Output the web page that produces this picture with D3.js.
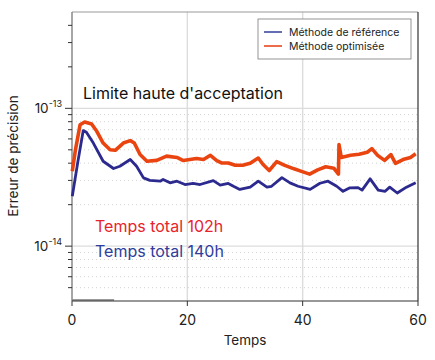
<!DOCTYPE html>
<html><head><meta charset="utf-8">
<script src="https://cdn.jsdelivr.net/npm/d3@7"></script>
<style>body{margin:0;background:#fff;} svg{display:block;font-family:Inter,"Noto Sans",sans-serif;}</style>
</head><body>
<svg id="c" width="435" height="360"></svg>
<script>
// ---- data ----
const refT = [0.05,1.0,1.95,2.5,3.7,5.4,7.2,8.3,10.1,11.2,12.4,13.5,15.3,15.8,17.0,18.2,19.6,21.0,22.2,24.5,25.7,27.1,28.0,29.1,30.9,32.3,33.8,34.6,36.4,37.8,39.2,41.3,43.0,44.4,45.9,47.0,48.2,49.6,50.3,51.7,53.1,54.3,55.1,56.4,58.0,59.6];
const refV = [2.30e-14,4.06e-14,6.9e-14,6.7e-14,5.6e-14,4.13e-14,3.66e-14,3.8e-14,4.25e-14,3.8e-14,3.13e-14,3.0e-14,2.96e-14,3.05e-14,2.88e-14,2.96e-14,2.8e-14,2.85e-14,2.8e-14,2.99e-14,2.77e-14,2.85e-14,2.72e-14,2.58e-14,2.68e-14,2.96e-14,2.68e-14,2.72e-14,3.14e-14,2.88e-14,2.72e-14,2.58e-14,2.86e-14,2.96e-14,2.72e-14,2.5e-14,2.65e-14,2.66e-14,2.55e-14,3.08e-14,2.55e-14,2.5e-14,2.68e-14,2.43e-14,2.68e-14,2.88e-14];
const optT = [0.05,0.6,1.4,2.2,3.4,4.3,5.4,6.6,7.5,8.9,10.1,10.8,11.8,13.0,14.7,16.4,18.2,19.3,21.6,22.8,24.0,25.1,26.0,27.1,28.3,29.6,30.9,32.3,33.1,34.2,35.5,36.9,38.5,39.8,41.2,42.6,44.0,45.4,46.2,46.3,46.7,48.3,49.8,51.2,52.0,53.0,54.2,55.3,56.1,57.4,58.7,59.6];
const optV = [3.49e-14,5.0e-14,7.6e-14,7.96e-14,7.7e-14,6.81e-14,5.6e-14,5.0e-14,4.96e-14,5.6e-14,5.83e-14,5.6e-14,4.62e-14,4.13e-14,4.19e-14,4.5e-14,4.4e-14,4.18e-14,4.32e-14,4.25e-14,4.56e-14,4.18e-14,4.01e-14,4.01e-14,3.86e-14,3.86e-14,3.99e-14,4.36e-14,3.93e-14,3.54e-14,4.1e-14,3.86e-14,3.64e-14,3.49e-14,3.33e-14,3.58e-14,3.77e-14,3.68e-14,3.33e-14,5.46e-14,4.4e-14,4.56e-14,4.64e-14,4.8e-14,5.1e-14,4.56e-14,4.19e-14,4.62e-14,3.99e-14,4.25e-14,4.4e-14,4.68e-14];
const baseT = [0, 7.3];
const xTicks = [0, 20, 40, 60];
const yMajor = [1e-13, 1e-14];
const yMajorExp = ["-13", "-14"];
const yMinor = [5e-15,6e-15,7e-15,8e-15,9e-15,2e-14,3e-14,4e-14,5e-14,6e-14,7e-14,8e-14,9e-14,2e-13,3e-13,4e-13];
const yGridMinor = [5e-15,6e-15,7e-15,8e-15,9e-15,2e-14,3e-14,4e-14,5e-14,6e-14,7e-14,8e-14,9e-14];
const seriesNames = ["Méthode de référence", "Méthode optimisée"];
const annotTitle = "Limite haute d'acceptation";
const annotRed = "Temps total 102h";
const annotBlue = "Temps total 140h";
const xLabel = "Temps";
const yLabel = "Erreur de précision";

// ---- layout ----
const L = 72, R = 418, T = 12, B = 301;
const svg = d3.select("#c");
const x = d3.scaleLinear().domain([0, 60]).range([L, R]);
const y = d3.scaleLog().domain([4e-15, 5e-13]).range([B, T]);
const cRef = "#2c2a8e", cOpt = "#ea4510";

// grid
const g = svg.append("g");
g.selectAll(".gm").data(yGridMinor).join("line")
  .attr("x1", L).attr("x2", R).attr("y1", d => y(d)).attr("y2", d => y(d))
  .attr("stroke", "#c8c8c8").attr("stroke-width", 0.8).attr("stroke-dasharray", "1,3");
g.selectAll(".gM").data(yMajor).join("line")
  .attr("x1", L).attr("x2", R).attr("y1", d => y(d)).attr("y2", d => y(d))
  .attr("stroke", "#dcdcdc").attr("stroke-width", 1.2);
g.selectAll(".gx").data(xTicks.slice(1, -1)).join("line")
  .attr("x1", d => x(d)).attr("x2", d => x(d)).attr("y1", T).attr("y2", B)
  .attr("stroke", "#dcdcdc").attr("stroke-width", 1.4);

// base gray segment
svg.append("line").attr("x1", x(baseT[0])).attr("x2", x(baseT[1])).attr("y1", B - 1).attr("y2", B - 1)
  .attr("stroke", "#9a9a9a").attr("stroke-width", 2);

// spines
svg.append("line").attr("x1", L).attr("x2", R).attr("y1", T).attr("y2", T).attr("stroke", "#999").attr("stroke-width", 1.2);
svg.append("line").attr("x1", L).attr("x2", L).attr("y1", T).attr("y2", B).attr("stroke", "#888").attr("stroke-width", 1.5);
svg.append("line").attr("x1", R).attr("x2", R).attr("y1", T).attr("y2", B).attr("stroke", "#333").attr("stroke-width", 1.2);
svg.append("line").attr("x1", L).attr("x2", R).attr("y1", B).attr("y2", B).attr("stroke", "#333").attr("stroke-width", 1.2);

// y ticks
svg.selectAll(".ym").data(yMinor).join("line")
  .attr("x1", L - 4).attr("x2", L).attr("y1", d => y(d)).attr("y2", d => y(d)).attr("stroke", "#333").attr("stroke-width", 1);
svg.selectAll(".yM").data(yMajor).join("line")
  .attr("x1", L - 7).attr("x2", L).attr("y1", d => y(d)).attr("y2", d => y(d)).attr("stroke", "#333").attr("stroke-width", 1);
const yl = svg.selectAll(".yl").data(yMajor).join("text")
  .attr("x", L - 10).attr("y", d => y(d) + 5).attr("text-anchor", "end")
  .attr("font-size", 13.5).attr("fill", "#222");
yl.append("tspan").text("10");
yl.append("tspan").attr("dy", -6).attr("font-size", 9).text((d, i) => yMajorExp[i]);

// x ticks
svg.selectAll(".xt").data(xTicks).join("line")
  .attr("x1", d => x(d)).attr("x2", d => x(d)).attr("y1", B).attr("y2", B + 5).attr("stroke", "#333");
svg.selectAll(".xl").data(xTicks).join("text")
  .attr("x", d => x(d)).attr("y", B + 24).attr("text-anchor", "middle")
  .attr("font-size", 14).attr("fill", "#222").text(d => d);
svg.append("text").attr("x", (L + R) / 2).attr("y", 345).attr("text-anchor", "middle")
  .attr("font-size", 13.5).attr("fill", "#222").text(xLabel);
svg.append("text").attr("transform", "translate(18,156) rotate(-90)").attr("text-anchor", "middle")
  .attr("font-size", 13.5).attr("fill", "#222").text(yLabel);

// lines
const line = d3.line().x(d => x(d[0])).y(d => y(d[1]));
svg.append("path").datum(refT.map((t, i) => [t, refV[i]])).attr("d", line)
  .attr("fill", "none").attr("stroke", cRef).attr("stroke-width", 2.8).attr("stroke-linejoin", "round");
svg.append("path").datum(optT.map((t, i) => [t, optV[i]])).attr("d", line)
  .attr("fill", "none").attr("stroke", cOpt).attr("stroke-width", 3.6).attr("stroke-linejoin", "round");

// annotations
svg.append("text").attr("x", 83).attr("y", 99).attr("font-size", 16).attr("fill", "#111").text(annotTitle);
svg.append("text").attr("x", 95).attr("y", 232).attr("font-size", 16).attr("fill", "#e8232b").text(annotRed);
svg.append("text").attr("x", 95).attr("y", 257).attr("font-size", 16).attr("fill", "#2f3d9c").text(annotBlue);

// legend
const lg = svg.append("g");
lg.append("rect").attr("x", 258).attr("y", 19).attr("width", 153).attr("height", 40)
  .attr("fill", "#fff").attr("stroke", "#7a7a7a").attr("stroke-width", 0.8);
const legCols = ["#3b4aa0", "#e8461c"];
seriesNames.forEach((n, i) => {
  const yy = 32 + i * 14;
  lg.append("line").attr("x1", 264).attr("x2", 282).attr("y1", yy).attr("y2", yy).attr("stroke", legCols[i]).attr("stroke-width", 1.6);
  lg.append("text").attr("x", 289).attr("y", yy + 3.5).attr("font-size", 10.5).attr("fill", "#222").text(n);
});
</script>
</body></html>
